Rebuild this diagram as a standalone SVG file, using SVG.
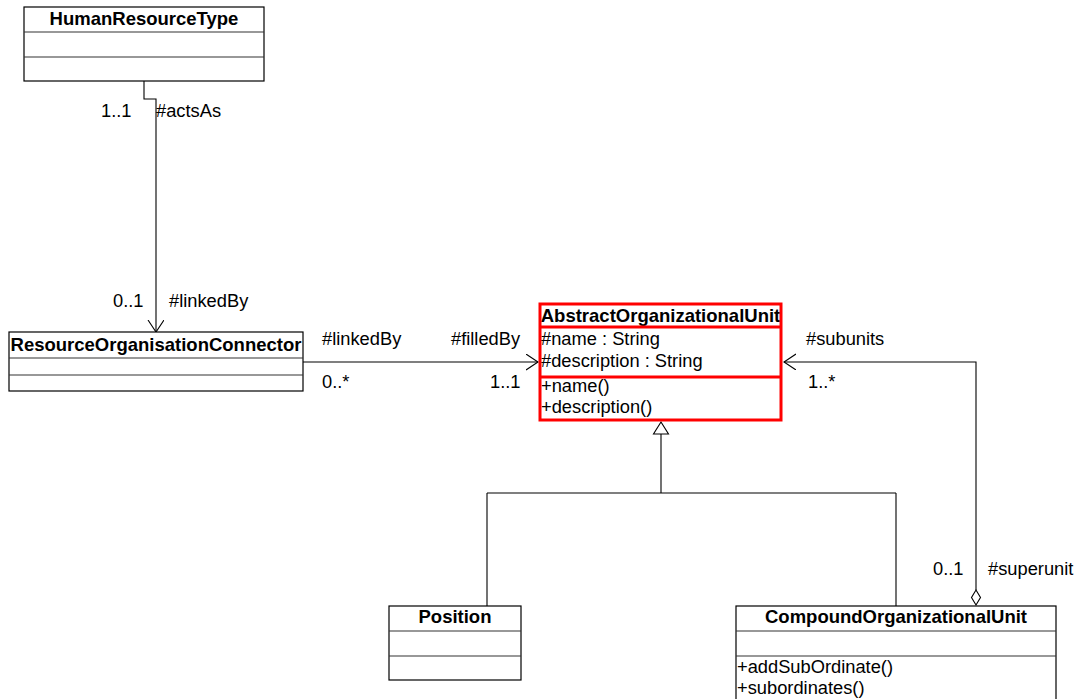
<svg xmlns="http://www.w3.org/2000/svg" width="1078" height="699" viewBox="0 0 1078 699">
  <style>
    text { font-family: "Liberation Sans", Arial, sans-serif; font-size: 18.3px; fill: #000; }
    .title { font-weight: bold; font-size: 18.5px; text-anchor: middle; }
    .box { fill: #fff; stroke: #000; stroke-width: 1.2; }
    .div { stroke: #333; stroke-width: 1.2; fill: none; }
    .hl { fill: none; stroke: #ff0000; stroke-width: 3; }
    .line { fill: none; stroke: #000; stroke-width: 1.1; }
  </style>
  <defs>
    <marker id="open" markerWidth="20" markerHeight="20" refX="12" refY="8" orient="auto" markerUnits="userSpaceOnUse">
      <path d="M0,0 L12,8 L0,16" fill="none" stroke="#000" stroke-width="1.1"/>
    </marker>
  </defs>

  <rect width="1078" height="699" fill="#fff"/>

  <!-- associations and generalisation -->
  <g id="connectors">
    <path class="line" d="M144,81 V99 H156 V332" marker-end="url(#open)"/>
    <path class="line" d="M303,362 H538" marker-end="url(#open)"/>
    <path class="line" d="M976,590 V362 H784" marker-end="url(#open)"/>
    <path d="M976,590 L980.5,597.5 L976,605 L971.5,597.5 Z" fill="#fff" stroke="#000" stroke-width="1.1"/>
    <path class="line" d="M661,434 V493 M487,493 H896 M487,493 V606 M896,493 V606"/>
    <path d="M661,422 L668.5,434 L653.5,434 Z" fill="#fff" stroke="#000" stroke-width="1.1"/>

    <text x="101" y="117">1..1</text>
    <text x="156" y="117">#actsAs</text>
    <text x="113" y="307">0..1</text>
    <text x="169" y="307">#linkedBy</text>
    <text x="322" y="345">#linkedBy</text>
    <text x="451" y="345">#filledBy</text>
    <text x="322" y="388">0..*</text>
    <text x="490" y="388">1..1</text>
    <text x="806" y="345">#subunits</text>
    <text x="808" y="388">1..*</text>
    <text x="933" y="575">0..1</text>
    <text x="988" y="575">#superunit</text>
  </g>

  <g id="HumanResourceType">
    <rect class="box" x="24" y="7" width="240" height="74"/>
    <path class="div" d="M24,32 H264 M24,57 H264"/>
    <text class="title" x="144" y="25">HumanResourceType</text>
  </g>

  <g id="ResourceOrganisationConnector">
    <rect class="box" x="9" y="332" width="294" height="59"/>
    <path class="div" d="M9,358 H303 M9,375 H303"/>
    <text class="title" x="156" y="351">ResourceOrganisationConnector</text>
  </g>

  <g id="AbstractOrganizationalUnit">
    <rect x="539" y="303" width="243" height="118" fill="#fff"/>
    <text class="title" x="660.5" y="322">AbstractOrganizationalUnit</text>
    <text x="541" y="345">#name : String</text>
    <text x="541" y="367">#description : String</text>
    <text x="541" y="392">+name()</text>
    <text x="541" y="413">+description()</text>
    <rect class="hl" x="540" y="304" width="241" height="116"/>
    <path class="hl" d="M540,327 H781 M540,377 H781"/>
  </g>

  <g id="Position">
    <rect class="box" x="389" y="606" width="132" height="74"/>
    <path class="div" d="M389,631 H521 M389,656 H521"/>
    <text class="title" x="455" y="623">Position</text>
  </g>

  <g id="CompoundOrganizationalUnit">
    <rect class="box" x="736" y="606" width="320" height="100"/>
    <path class="div" d="M736,631 H1056 M736,656 H1056"/>
    <text class="title" x="896" y="623">CompoundOrganizationalUnit</text>
    <text x="737" y="673">+addSubOrdinate()</text>
    <text x="737" y="694">+subordinates()</text>
  </g>
</svg>
